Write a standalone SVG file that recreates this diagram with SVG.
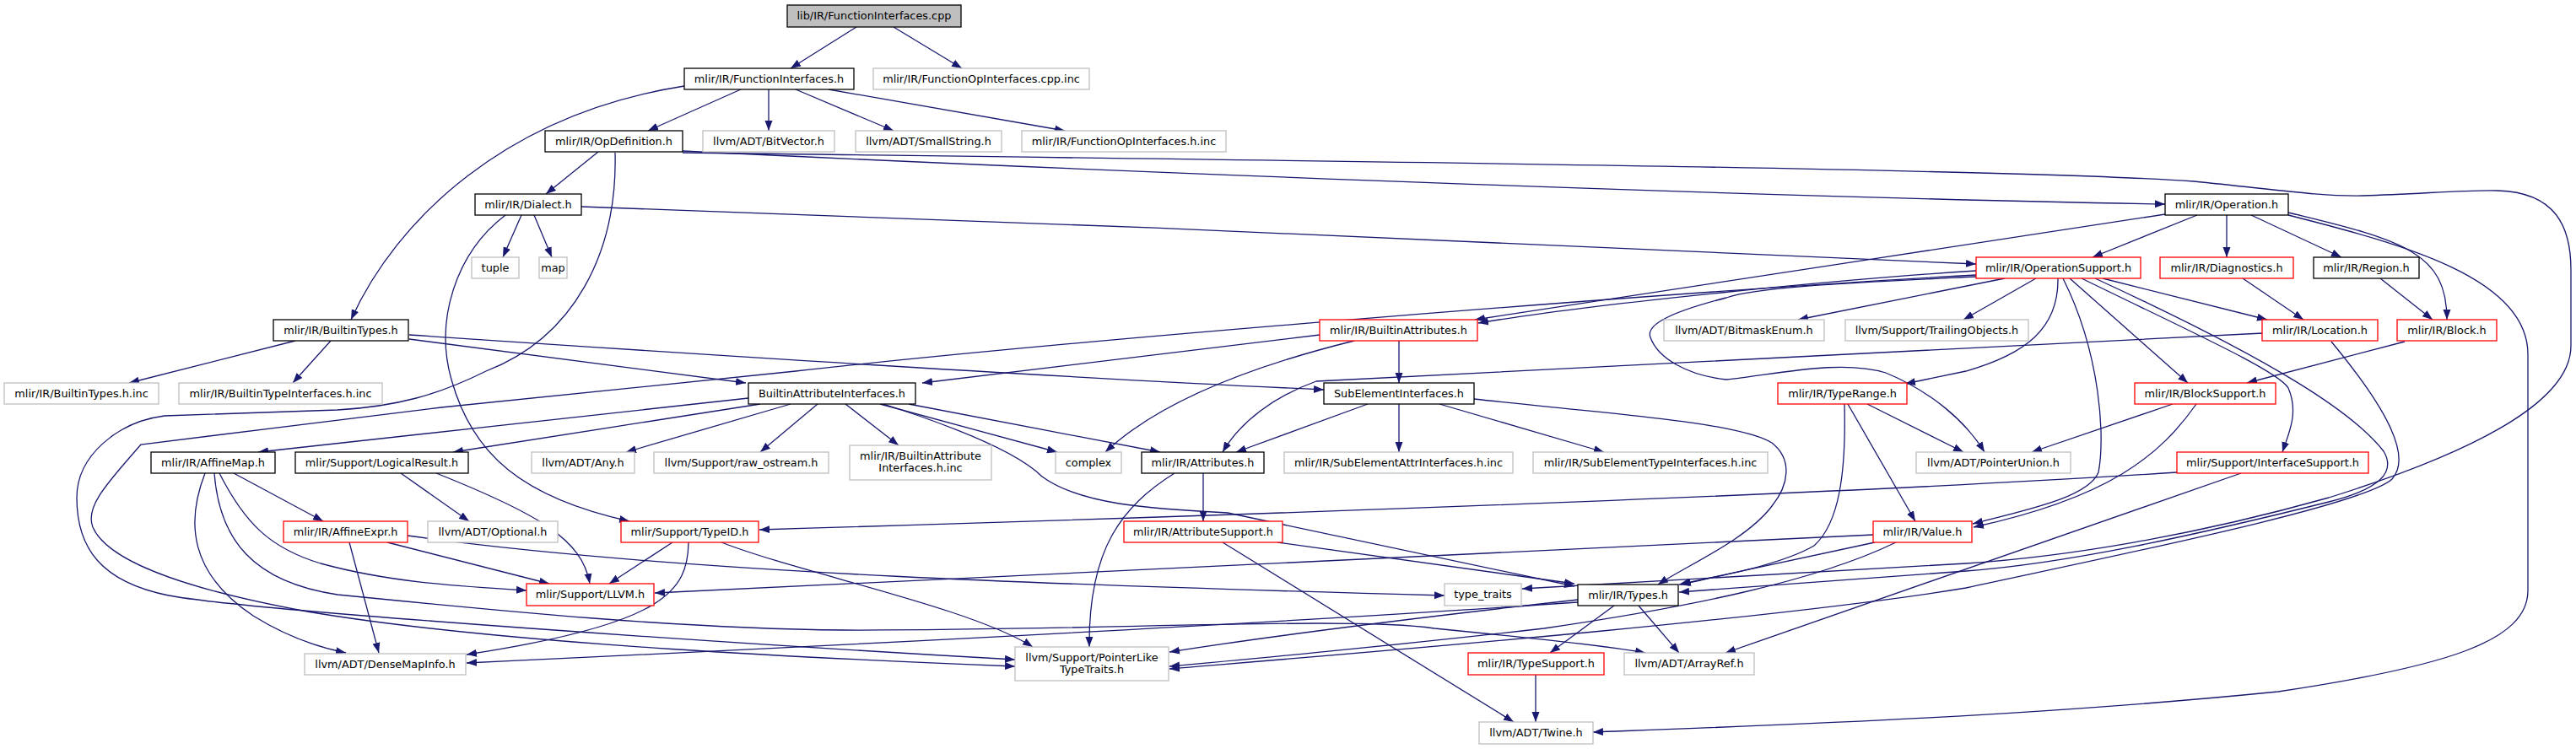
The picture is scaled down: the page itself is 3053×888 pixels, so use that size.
<svg xmlns="http://www.w3.org/2000/svg" width="3053" height="888" viewBox="0 0 3053 888">
<defs>
<marker id="a" markerUnits="userSpaceOnUse" markerWidth="13" markerHeight="10" refX="12" refY="5" orient="auto"><path d="M0,0.5 L12,5 L0,9.5 z" fill="#191970"/></marker>
<style>
.n rect{fill:#fff;stroke:#000;stroke-width:1.3}
.g rect{stroke:#bfbfbf}
.r rect{stroke:#ff0000}
.root rect{fill:#bfbfbf}
text{font-family:"DejaVu Sans",sans-serif;font-size:12.85px;text-anchor:middle;fill:#000}
#edges path{fill:none;stroke:#191970;stroke-width:1.3;marker-end:url(#a)}
</style>
</defs>
<rect width="3053" height="888" fill="#fff"/>
<g id="edges">
<path d="M1015,32 L937,81"/>
<path d="M1059,32 L1140,81"/>
<path d="M878,106 L768,155"/>
<path d="M911,106 L911,155"/>
<path d="M943,106 L1059,155"/>
<path d="M982,106 L1262,155"/>
<path d="M811,102 C 600,135 470,260 416,379"/>
<path d="M709,180 L647,230"/>
<path d="M809,179 C 1200,198 2000,232 2566,242"/>
<path d="M809,181 C 1500,190 2400,200 2600,215 C 2700,225 2750,233 2800,232 C 2870,230 2920,225 2960,226 C 3030,228 3047,270 3047,320 L3047,410 C 3047,480 2920,540 2760,590 C 2600,635 2450,660 2330,668 L1804,698"/>
<path d="M729,181 C 732,300 680,400 576,440 C 520,468 470,482 400,486 L195,493 C 140,500 91,540 91,590 C 91,650 120,690 200,706 C 300,725 900,765 1203,782"/>
<path d="M689,245 C 1200,262 2000,295 2342,313"/>
<path d="M599,255 C 540,300 515,380 535,450 C 560,540 620,590 746,618"/>
<path d="M618,255 L596,305"/>
<path d="M633,255 L654,305"/>
<path d="M2604,255 L2480,305"/>
<path d="M2639,255 L2639,305"/>
<path d="M2668,255 L2775,305"/>
<path d="M2712,252 C 2850,285 2900,300 2900,379"/>
<path d="M2566,254 C 2300,295 2000,340 1748,379"/>
<path d="M2712,255 C 2850,290 2996,330 2996,420 L2996,700 C 2996,760 2900,790 2700,820 C 2400,850 2100,860 1888,868"/>
<path d="M2658,330 L2730,379"/>
<path d="M2821,330 L2883,379"/>
<path d="M2850,405 L2663,454"/>
<path d="M2342,321 C 2200,330 1900,358 1752,383"/>
<path d="M2376,330 L2131,379"/>
<path d="M2413,330 L2327,379"/>
<path d="M2492,330 L2687,379"/>
<path d="M2453,330 L2593,454"/>
<path d="M2439,330 C 2440,390 2400,420 2330,440 L2258,455"/>
<path d="M2445,330 C 2490,420 2495,520 2487,560 C 2475,590 2400,605 2338,621"/>
<path d="M2467,330 C 2600,395 2700,440 2712,460 C 2725,490 2712,515 2705,536"/>
<path d="M2342,328 C 2200,335 2080,340 2046,353 C 1980,370 1950,385 1956,400 C 1965,425 2000,445 2046,450 C 2100,445 2180,425 2235,442 C 2290,465 2330,500 2352,536"/>
<path d="M2483,330 C 2700,430 2790,490 2825,535 C 2840,560 2820,580 2760,595 C 2600,635 2450,668 2330,677 L1990,702"/>
<path d="M2342,326 C 2000,345 1300,400 943,440 L523,483 L167,527 C 130,570 100,600 110,625 C 125,660 200,695 364,725 C 600,765 1000,782 1203,790"/>
<path d="M2682,395 L1560,452 C 1510,470 1470,500 1449,536"/>
<path d="M2763,405 C 2825,480 2860,540 2835,568 C 2800,600 2500,660 2330,697 C 2100,735 1600,775 1386,793"/>
<path d="M350,404 L153,454"/>
<path d="M392,404 L347,454"/>
<path d="M485,402 L884,454"/>
<path d="M485,397 C 900,425 1300,450 1569,462"/>
<path d="M1564,397 L1093,454"/>
<path d="M1605,404 C 1500,430 1380,470 1310,536"/>
<path d="M1658,404 L1658,454"/>
<path d="M887,472 L306,536"/>
<path d="M901,479 L537,536"/>
<path d="M937,479 L742,536"/>
<path d="M969,479 L901,536"/>
<path d="M1002,479 L1065,528"/>
<path d="M1043,479 L1253,536"/>
<path d="M1077,479 L1375,536"/>
<path d="M1047,479 C 1150,512 1210,540 1235,565 C 1280,598 1360,603 1455,608 L1866,695"/>
<path d="M1621,479 L1465,536"/>
<path d="M1658,479 L1658,536"/>
<path d="M1706,479 L1901,536"/>
<path d="M1747,473 C 1900,490 2060,500 2100,525 C 2125,545 2120,575 2100,600 C 2070,640 2000,670 1965,693"/>
<path d="M2213,479 L2327,536"/>
<path d="M2190,479 L2270,618"/>
<path d="M2186,479 C 2188,560 2180,620 2150,647 C 2110,670 2040,682 1992,693"/>
<path d="M2575,479 L2408,536"/>
<path d="M2603,479 C 2560,540 2500,590 2339,625"/>
<path d="M2580,560 C 2200,585 1500,610 900,628"/>
<path d="M2656,561 L2045,774"/>
<path d="M2220,634 C 1700,660 1200,685 776,703"/>
<path d="M2222,643 L1990,693"/>
<path d="M2247,643 C 2150,690 2000,720 1830,745 C 1700,760 1500,780 1386,790"/>
<path d="M277,561 L383,618"/>
<path d="M260,561 C 290,620 320,650 380,668 C 460,690 540,695 624,700"/>
<path d="M243,561 C 220,620 225,680 300,730 C 340,755 380,768 410,774"/>
<path d="M254,561 C 260,640 300,690 400,705 C 600,725 800,745 1000,747 C 1300,748 1600,730 1700,745 C 1800,755 1900,765 1950,774"/>
<path d="M459,643 L651,692"/>
<path d="M414,643 L449,774"/>
<path d="M483,635 C 800,680 1300,695 1712,706"/>
<path d="M475,561 L556,618"/>
<path d="M517,561 C 640,610 690,640 699,692"/>
<path d="M797,643 L722,692"/>
<path d="M816,643 C 815,700 790,740 553,776"/>
<path d="M855,643 C 950,680 1150,720 1224,767"/>
<path d="M1426,561 L1426,618"/>
<path d="M1392,561 C 1330,600 1290,650 1291,767"/>
<path d="M1514,643 L1866,692"/>
<path d="M1449,643 L1794,856"/>
<path d="M1913,718 L1837,774"/>
<path d="M1942,718 L1990,774"/>
<path d="M1870,714 C 1500,740 1000,765 553,786"/>
<path d="M1870,711 C 1700,730 1500,755 1386,773"/>
<path d="M1820,800 L1820,856"/>
</g>
<g id="n_root" class="n root"><rect x="933" y="6" width="206" height="26"/><text x="1036" y="23">lib/IR/FunctionInterfaces.cpp</text></g>
<g id="n_fi" class="n"><rect x="811" y="81" width="201" height="25"/><text x="911.5" y="98">mlir/IR/FunctionInterfaces.h</text></g>
<g id="n_foicpp" class="n g"><rect x="1035" y="81" width="256" height="25"/><text x="1163" y="98">mlir/IR/FunctionOpInterfaces.cpp.inc</text></g>
<g id="n_opdef" class="n"><rect x="646" y="155" width="163" height="25"/><text x="727.5" y="172">mlir/IR/OpDefinition.h</text></g>
<g id="n_bitvector" class="n g"><rect x="833" y="155" width="156" height="25"/><text x="911" y="172">llvm/ADT/BitVector.h</text></g>
<g id="n_smallstring" class="n g"><rect x="1014" y="155" width="173" height="25"/><text x="1100.5" y="172">llvm/ADT/SmallString.h</text></g>
<g id="n_foih" class="n g"><rect x="1211" y="155" width="242" height="25"/><text x="1332" y="172">mlir/IR/FunctionOpInterfaces.h.inc</text></g>
<g id="n_dialect" class="n"><rect x="563" y="230" width="126" height="25"/><text x="626" y="247">mlir/IR/Dialect.h</text></g>
<g id="n_operation" class="n"><rect x="2566" y="230" width="146" height="25"/><text x="2639" y="247">mlir/IR/Operation.h</text></g>
<g id="n_tuple" class="n g"><rect x="559" y="305" width="56" height="25"/><text x="587" y="322">tuple</text></g>
<g id="n_map" class="n g"><rect x="639" y="305" width="33" height="25"/><text x="655.5" y="322">map</text></g>
<g id="n_opsupport" class="n r"><rect x="2342" y="305" width="195" height="25"/><text x="2439.5" y="322">mlir/IR/OperationSupport.h</text></g>
<g id="n_diagnostics" class="n r"><rect x="2560" y="305" width="158" height="25"/><text x="2639" y="322">mlir/IR/Diagnostics.h</text></g>
<g id="n_region" class="n"><rect x="2742" y="305" width="125" height="25"/><text x="2804.5" y="322">mlir/IR/Region.h</text></g>
<g id="n_builtintypes" class="n"><rect x="324" y="379" width="160" height="25"/><text x="404" y="396">mlir/IR/BuiltinTypes.h</text></g>
<g id="n_builtinattrs" class="n r"><rect x="1564" y="379" width="187" height="25"/><text x="1657.5" y="396">mlir/IR/BuiltinAttributes.h</text></g>
<g id="n_bitmask" class="n g"><rect x="1972" y="379" width="190" height="25"/><text x="2067" y="396">llvm/ADT/BitmaskEnum.h</text></g>
<g id="n_trailing" class="n g"><rect x="2187" y="379" width="217" height="25"/><text x="2295.5" y="396">llvm/Support/TrailingObjects.h</text></g>
<g id="n_location" class="n r"><rect x="2681" y="379" width="137" height="25"/><text x="2749.5" y="396">mlir/IR/Location.h</text></g>
<g id="n_block" class="n r"><rect x="2841" y="379" width="118" height="25"/><text x="2900" y="396">mlir/IR/Block.h</text></g>
<g id="n_btinc" class="n g"><rect x="5" y="454" width="183" height="25"/><text x="96.5" y="471">mlir/IR/BuiltinTypes.h.inc</text></g>
<g id="n_btiinc" class="n g"><rect x="212" y="454" width="241" height="25"/><text x="332.5" y="471">mlir/IR/BuiltinTypeInterfaces.h.inc</text></g>
<g id="n_bai" class="n"><rect x="887" y="454" width="198" height="25"/><text x="986" y="471">BuiltinAttributeInterfaces.h</text></g>
<g id="n_sei" class="n"><rect x="1569" y="454" width="178" height="25"/><text x="1658" y="471">SubElementInterfaces.h</text></g>
<g id="n_typerange" class="n r"><rect x="2107" y="454" width="153" height="25"/><text x="2183.5" y="471">mlir/IR/TypeRange.h</text></g>
<g id="n_blocksupport" class="n r"><rect x="2530" y="454" width="167" height="25"/><text x="2613.5" y="471">mlir/IR/BlockSupport.h</text></g>
<g id="n_affinemap" class="n"><rect x="179" y="536" width="147" height="25"/><text x="252.5" y="553">mlir/IR/AffineMap.h</text></g>
<g id="n_logical" class="n"><rect x="350" y="536" width="205" height="25"/><text x="452.5" y="553">mlir/Support/LogicalResult.h</text></g>
<g id="n_any" class="n g"><rect x="630" y="536" width="122" height="25"/><text x="691" y="553">llvm/ADT/Any.h</text></g>
<g id="n_rawostream" class="n g"><rect x="775" y="536" width="207" height="25"/><text x="878.5" y="553">llvm/Support/raw_ostream.h</text></g>
<g id="n_baiinc" class="n g"><rect x="1007" y="528" width="168" height="41"/><text x="1091" y="545">mlir/IR/BuiltinAttribute</text><text x="1091" y="559">Interfaces.h.inc</text></g>
<g id="n_complex" class="n g"><rect x="1251" y="536" width="78" height="25"/><text x="1290" y="553">complex</text></g>
<g id="n_attributes" class="n"><rect x="1353" y="536" width="145" height="25"/><text x="1425.5" y="553">mlir/IR/Attributes.h</text></g>
<g id="n_seattr" class="n g"><rect x="1522" y="536" width="271" height="25"/><text x="1657.5" y="553">mlir/IR/SubElementAttrInterfaces.h.inc</text></g>
<g id="n_setype" class="n g"><rect x="1817" y="536" width="278" height="25"/><text x="1956" y="553">mlir/IR/SubElementTypeInterfaces.h.inc</text></g>
<g id="n_pointerunion" class="n g"><rect x="2271" y="536" width="183" height="25"/><text x="2362.5" y="553">llvm/ADT/PointerUnion.h</text></g>
<g id="n_ifacesupport" class="n r"><rect x="2580" y="536" width="227" height="25"/><text x="2693.5" y="553">mlir/Support/InterfaceSupport.h</text></g>
<g id="n_affineexpr" class="n r"><rect x="336" y="618" width="147" height="25"/><text x="409.5" y="635">mlir/IR/AffineExpr.h</text></g>
<g id="n_optional" class="n g"><rect x="507" y="618" width="154" height="25"/><text x="584" y="635">llvm/ADT/Optional.h</text></g>
<g id="n_typeid" class="n r"><rect x="736" y="618" width="163" height="25"/><text x="817.5" y="635">mlir/Support/TypeID.h</text></g>
<g id="n_attrsupport" class="n r"><rect x="1332" y="618" width="188" height="25"/><text x="1426" y="635">mlir/IR/AttributeSupport.h</text></g>
<g id="n_value" class="n r"><rect x="2220" y="618" width="117" height="25"/><text x="2278.5" y="635">mlir/IR/Value.h</text></g>
<g id="n_llvm" class="n r"><rect x="624" y="692" width="151" height="26"/><text x="699.5" y="709">mlir/Support/LLVM.h</text></g>
<g id="n_typetraits" class="n g"><rect x="1712" y="692" width="91" height="26"/><text x="1757.5" y="709">type_traits</text></g>
<g id="n_types" class="n"><rect x="1870" y="693" width="119" height="25"/><text x="1929.5" y="710">mlir/IR/Types.h</text></g>
<g id="n_densemap" class="n g"><rect x="361" y="775" width="191" height="25"/><text x="456.5" y="792">llvm/ADT/DenseMapInfo.h</text></g>
<g id="n_pointerlike" class="n g"><rect x="1203" y="767" width="182" height="40"/><text x="1294" y="784">llvm/Support/PointerLike</text><text x="1294" y="798">TypeTraits.h</text></g>
<g id="n_typesupport" class="n r"><rect x="1740" y="774" width="161" height="26"/><text x="1820.5" y="791">mlir/IR/TypeSupport.h</text></g>
<g id="n_arrayref" class="n g"><rect x="1925" y="774" width="154" height="26"/><text x="2002" y="791">llvm/ADT/ArrayRef.h</text></g>
<g id="n_twine" class="n g"><rect x="1753" y="856" width="135" height="26"/><text x="1820.5" y="873">llvm/ADT/Twine.h</text></g>
</svg>
